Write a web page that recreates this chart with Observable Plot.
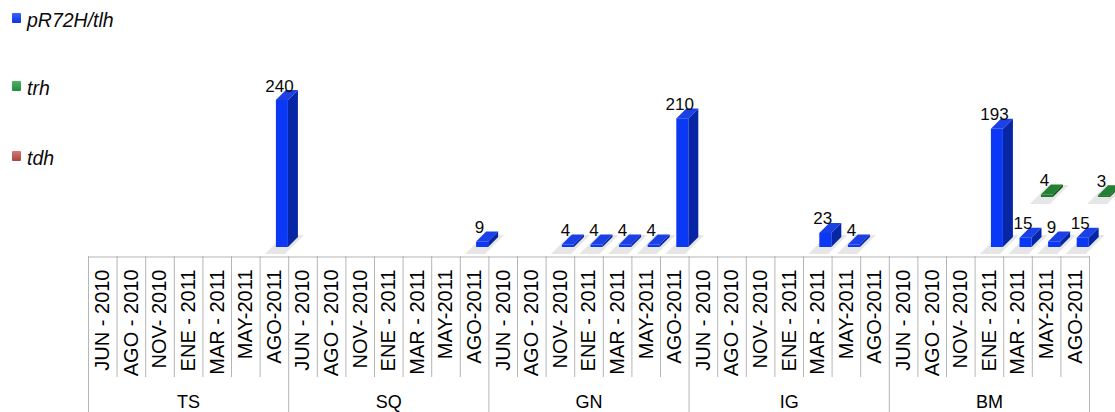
<!DOCTYPE html>
<html>
<head>
<meta charset="utf-8">
<script src="https://cdn.jsdelivr.net/npm/d3@7"></script>
<script src="https://cdn.jsdelivr.net/npm/@observablehq/plot@0.6"></script>
<style>
  html, body { margin: 0; padding: 0; background: #fff; }
  #chart { position: relative; width: 1115px; height: 412px; overflow: hidden;
           font-family: "Liberation Sans", Arial, Helvetica, sans-serif; }
  #chart svg { display: block; }
  .legend-item { position: absolute; left: 12px; height: 20px; }
  .legend-item .sw { position: absolute; left: 0; width: 9px; height: 10px; border-radius: 1px; }
  .legend-item .lb { position: absolute; left: 15px; top: -2px; font-size: 19.5px; line-height: 19px;
                     font-style: italic; color: #0a0a0a; white-space: nowrap; }
</style>
</head>
<body>
<div id="chart"></div>
<script>
// Sites and sampling campaigns
const groups = ["TS", "SQ", "GN", "IG", "BM"];
const months = ["JUN - 2010", "AGO - 2010", "NOV- 2010", "ENE - 2011", "MAR - 2011", "MAY-2011", "AGO-2011"];
const seriesNames = ["pR72H/tlh", "trh", "tdh"];

// Counts per campaign, sites in order TS, SQ, GN, IG, BM
const tlhCounts = [
  0, 0, 0, 0, 0, 0, 240,
  0, 0, 0, 0, 0, 0, 9,
  0, 0, 4, 4, 4, 4, 210,
  0, 0, 0, 0, 23, 4, 0,
  0, 0, 0, 193, 15, 9, 15
];
const trhCounts = [
  0, 0, 0, 0, 0, 0, 0,
  0, 0, 0, 0, 0, 0, 0,
  0, 0, 0, 0, 0, 0, 0,
  0, 0, 0, 0, 0, 0, 0,
  0, 0, 0, 4, 0, 3, 0
];
const tdhCounts = [
  0, 0, 0, 0, 0, 0, 0,
  0, 0, 0, 0, 0, 0, 0,
  0, 0, 0, 0, 0, 0, 0,
  0, 0, 0, 0, 0, 0, 0,
  0, 0, 0, 0, 0, 0, 0
];

// Face colours per series: front, side, top, legend swatch
const palette = [
  {front: "#0b38f4", side: "#0626a6", top: "#1a40e6", swatch: "linear-gradient(#3a62ff, #0a33e6)"},
  {front: "#1b7a2c", side: "#11561d", top: "#237f31", swatch: "linear-gradient(#4fb465, #218c3b)"},
  {front: "#b24a47", side: "#7e2f2d", top: "#bd5a56", swatch: "linear-gradient(#d27a76, #a9443f)"}
];

// Layout
const W = 1115, LEFT = 88, RIGHT = 26;
const NCOL = groups.length * months.length;
const COL_PX = (W - LEFT - RIGHT) / NCOL;
const TOP_H = 256, BASE_MARGIN = 9, TOP_MARGIN = 2, Y_MAX = 400;
const UNIT_PX = (TOP_H - BASE_MARGIN - TOP_MARGIN) / Y_MAX;
const TABLE_H = 412 - TOP_H;
const DEPTH_PX = 10;   // oblique depth of each column
const ROW_PX = 50;     // offset between series rows
const FRONT_L = 0.57, FRONT_R = 0.99;

const cols = groups.flatMap((g, gi) => months.map((m, mi) => ({g, m, i: gi * months.length + mi})));

// Bars with a non-zero count, with their 3-D faces in data coordinates
const bars = [];
[tlhCounts, trhCounts, tdhCounts].forEach((vals, s) => {
  vals.forEach((v, i) => { if (v > 0) bars.push({s, i, v, id: `${s}-${i}`}); });
});
const px2x = p => p / COL_PX, px2y = p => p / UNIT_PX;
const ddx = px2x(DEPTH_PX), ddy = px2y(DEPTH_PX);
bars.forEach(b => {
  b.xl = b.i + FRONT_L + px2x(b.s * ROW_PX);
  b.xr = b.i + FRONT_R + px2x(b.s * ROW_PX);
  b.y0 = px2y(b.s * ROW_PX);
  b.y1 = b.y0 + b.v;
});
const fronts = bars.map(b => ({...b, fill: palette[b.s].front}));
const sides = bars.flatMap(b => [
  {id: b.id, s: b.s, x: b.xr, lo: b.y0, hi: b.y1, fill: palette[b.s].side},
  {id: b.id, s: b.s, x: b.xr + ddx, lo: b.y0 + ddy, hi: b.y1 + ddy, fill: palette[b.s].side}
]);
const tops = bars.flatMap(b => [
  {id: b.id, s: b.s, y: b.y1, a: b.xl, c: b.xr, fill: palette[b.s].top},
  {id: b.id, s: b.s, y: b.y1 + ddy, a: b.xl + ddx, c: b.xr + ddx, fill: palette[b.s].top}
]);
// Soft floor shadow cast down-left of every column
const shadows = bars.flatMap(b => [
  {id: b.id, y: b.y0 - px2y(7), a: b.xl - px2x(11), c: b.xr - px2x(3)},
  {id: b.id, y: b.y0 + px2y(12), a: b.xl + px2x(8), c: b.xr + px2x(16)}
]);

const barMarks = [];
for (const s of [2, 1, 0]) {
  barMarks.push(
    Plot.areaY(sides.filter(d => d.s === s), {x: "x", y1: "lo", y2: "hi", z: "id", fill: "fill"}),
    Plot.areaX(tops.filter(d => d.s === s), {y: "y", x1: "a", x2: "c", z: "id", fill: "fill"}),
    Plot.rect(fronts.filter(d => d.s === s), {x1: "xl", x2: "xr", y1: "y0", y2: "y1", fill: "fill"})
  );
}

const barsPlot = Plot.plot({
  width: W, height: TOP_H,
  marginLeft: LEFT, marginRight: RIGHT, marginTop: TOP_MARGIN, marginBottom: BASE_MARGIN,
  x: {domain: [0, NCOL], axis: null},
  y: {domain: [0, Y_MAX], axis: null},
  style: {fontFamily: "Liberation Sans, Arial, sans-serif", background: "transparent", overflow: "visible"},
  marks: [
    Plot.areaX(shadows, {y: "y", x1: "a", x2: "c", z: "id", fill: "#dcdcdc", fillOpacity: 0.7}),
    ...barMarks,
    Plot.text(bars, {
      x: d => (d.xl + d.xr) / 2, y: "y1", text: "v",
      dy: -9, dx: -3, lineAnchor: "bottom", fontSize: 17, fill: "#0a0a0a"
    })
  ]
});

// Category table under the columns
const dividers = d3.range(NCOL + 1).map(i => ({x: i, full: i % months.length === 0}));
const tablePlot = Plot.plot({
  width: W, height: TABLE_H,
  marginLeft: LEFT, marginRight: RIGHT, marginTop: 0, marginBottom: 0,
  x: {domain: [0, NCOL], axis: null},
  y: {type: "identity", axis: null},
  style: {fontFamily: "Liberation Sans, Arial, sans-serif", background: "transparent", overflow: "visible"},
  marks: [
    Plot.ruleY([0.5], {x1: 0, x2: NCOL, stroke: "#b5b5b5", strokeWidth: 1}),
    Plot.ruleX(dividers, {x: "x", y1: 0, y2: d => d.full ? TABLE_H : 121, stroke: "#b5b5b5", strokeWidth: 1}),
    Plot.text(cols, {
      x: d => d.i + 0.5, y: 13, text: "m", rotate: -90,
      textAnchor: "end", fontSize: 20, fill: "#000"
    }),
    Plot.text(groups, {
      x: (d, gi) => gi * months.length + months.length / 2, y: 151, text: d => d,
      lineAnchor: "bottom", fontSize: 18, fill: "#000"
    })
  ]
});

const chart = document.getElementById("chart");
chart.append(barsPlot, tablePlot);

// Legend in the upper-left corner
const legendTops = [13, 81, 151];
seriesNames.forEach((name, s) => {
  const item = document.createElement("div");
  item.className = "legend-item";
  item.style.top = legendTops[s] + "px";
  const sw = document.createElement("div");
  sw.className = "sw";
  sw.style.background = palette[s].swatch;
  const lb = document.createElement("div");
  lb.className = "lb";
  lb.textContent = name;
  item.append(sw, lb);
  chart.append(item);
});
</script>
</body>
</html>
